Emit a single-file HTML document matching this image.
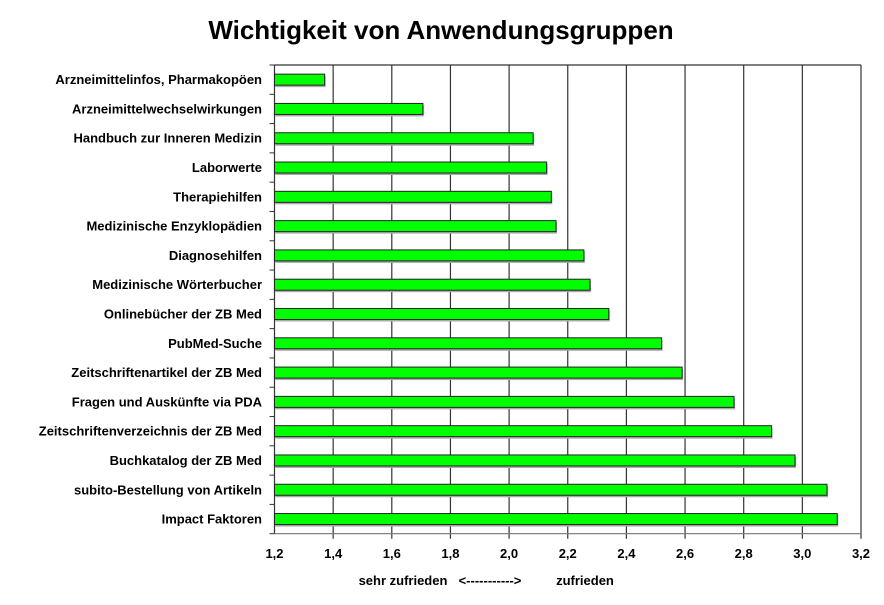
<!DOCTYPE html>
<html><head><meta charset="utf-8"><style>
body{margin:0;background:#fff;}
svg text{font-family:"Liberation Sans",Arial,sans-serif;font-weight:bold;fill:#000;}
</style></head><body>
<svg id="c" width="884" height="600">
<text x="441" y="39" font-size="26" text-anchor="middle">Wichtigkeit von Anwendungsgruppen</text>
<g id="grid"></g><g id="bars"></g><g id="ylab"></g><g id="xlab"></g>
<text x="403" y="585" font-size="13" text-anchor="middle">sehr zufrieden</text>
<text x="490" y="585" font-size="13" text-anchor="middle">&lt;-----------&gt;</text>
<text x="585" y="585" font-size="13" text-anchor="middle">zufrieden</text>
</svg>
<script>
const categories=["Arzneimittelinfos, Pharmakopöen","Arzneimittelwechselwirkungen","Handbuch zur Inneren Medizin","Laborwerte","Therapiehilfen","Medizinische Enzyklopädien","Diagnosehilfen","Medizinische Wörterbucher","Onlinebücher der ZB Med","PubMed-Suche","Zeitschriftenartikel der ZB Med","Fragen und Auskünfte via PDA","Zeitschriftenverzeichnis der ZB Med","Buchkatalog der ZB Med","subito-Bestellung von Artikeln","Impact Faktoren"];
const values=[1.371,1.706,2.082,2.128,2.144,2.16,2.255,2.276,2.34,2.52,2.59,2.767,2.895,2.975,3.084,3.119];
const ticks=[1.2,1.4,1.6,1.8,2.0,2.2,2.4,2.6,2.8,3.0,3.2];
const tickLabels=["1,2","1,4","1,6","1,8","2,0","2,2","2,4","2,6","2,8","3,0","3,2"];
const X0=274.5,X1=861,Y0=65,Y1=533.7,MIN=1.2,MAX=3.2;
const xs=v=>X0+(v-MIN)/(MAX-MIN)*(X1-X0);
const band=(Y1-Y0)/categories.length;
const ys=i=>Y0+band*i;
const NS="http://www.w3.org/2000/svg";
function mk(t,a,p){const e=document.createElementNS(NS,t);for(const k in a)e.setAttribute(k,a[k]);p.appendChild(e);return e;}
const g=document.getElementById('grid'),b=document.getElementById('bars'),yl=document.getElementById('ylab'),xl=document.getElementById('xlab');
ticks.forEach((t,i)=>{
 const x=xs(t);
 if(i>0){const l=mk('line',{x1:x,x2:x,y1:Y0,y2:Y1+5,stroke:'#333','stroke-width':1.2},g);
 
 }
 const tx=mk('text',{x:x,y:558,'font-size':13,'text-anchor':'middle'},xl);tx.textContent=tickLabels[i];
 
 
});
const topBorder=mk('line',{x1:X0,x2:X1,y1:Y0,y2:Y0,stroke:'#333','stroke-width':1.2},g);


const ax=mk('line',{x1:X0,x2:X0,y1:Y0,y2:Y1,stroke:'#333','stroke-width':1.2},g);


const bx=mk('line',{x1:X0,x2:X1,y1:Y1,y2:Y1,stroke:'#777','stroke-width':1.2},g);


for(let i=0;i<=categories.length;i++){const t=mk('line',{x1:X0-5,x2:X0,y1:ys(i),y2:ys(i),stroke:'#333'},g);
 
 }
categories.forEach((c,i)=>{
 const cy=ys(i)+band/2;
 const s=mk('rect',{x:X0+1,y:cy-5+1.5,width:xs(values[i])-X0,height:11,fill:'#aaa'},b);
 
 
 const r=mk('rect',{x:X0,y:cy-5.5,width:xs(values[i])-X0,height:11,fill:'#00ff00',stroke:'#222','stroke-width':1},b);
 
 
 const t=mk('text',{x:262,y:cy+4.5,'font-size':13,'text-anchor':'end'},yl);t.textContent=c;
 
 
});
</script>
</body></html>
